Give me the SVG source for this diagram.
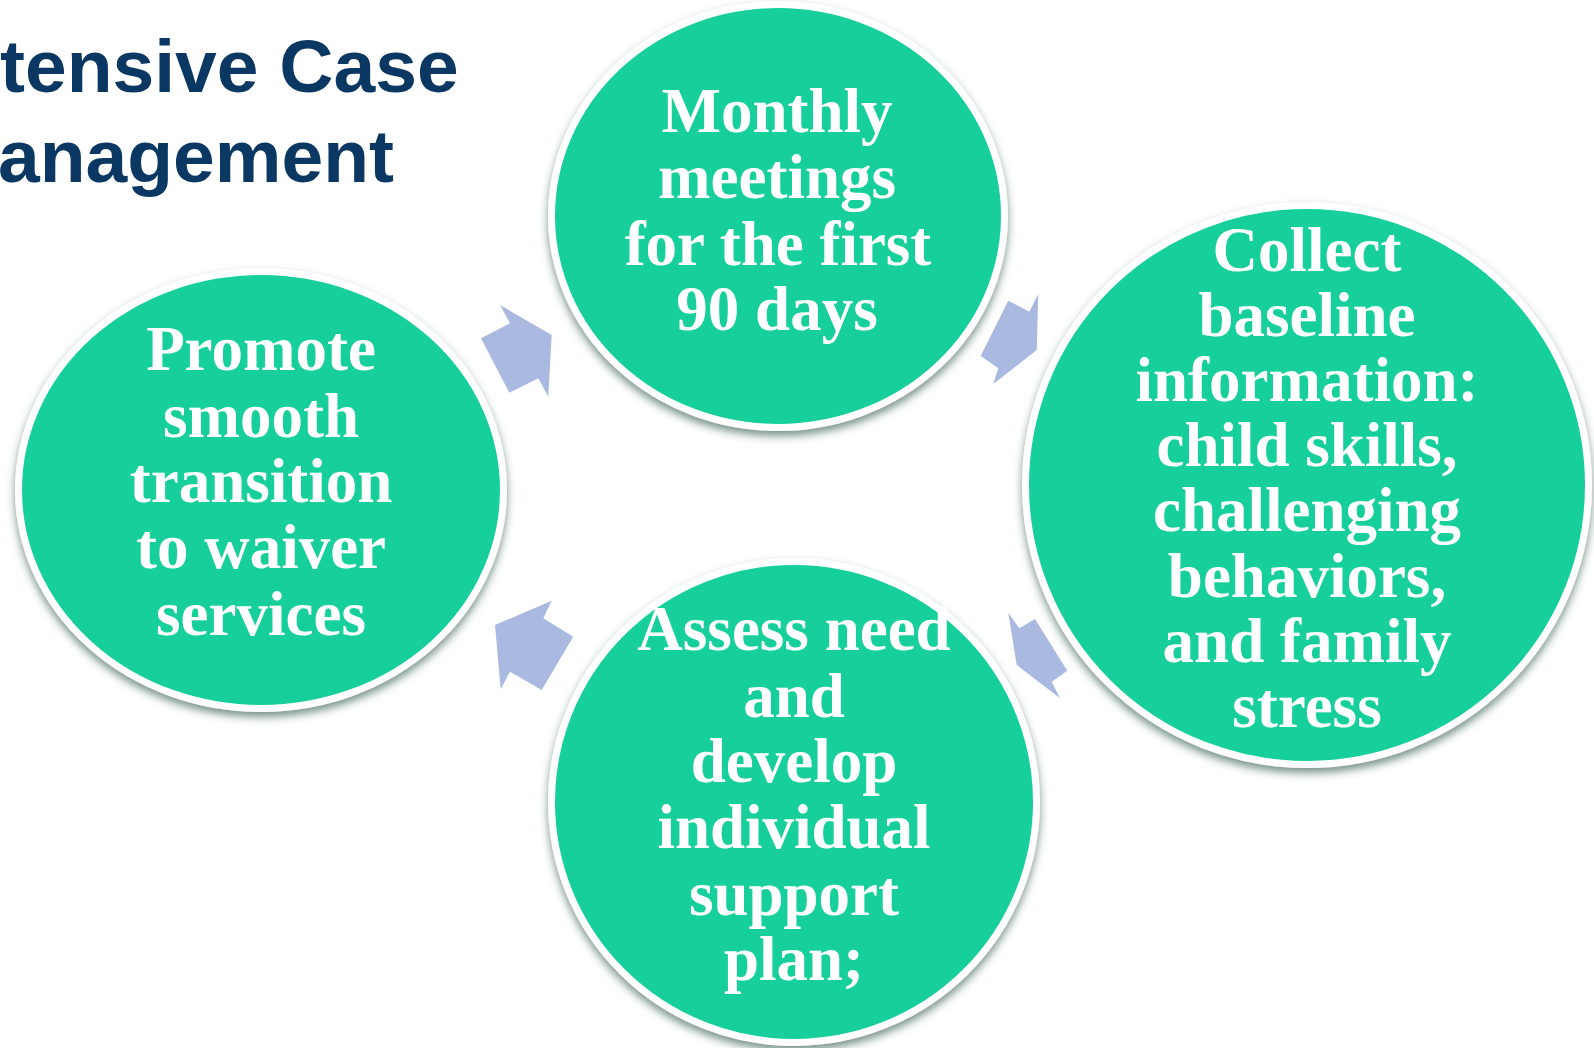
<svg xmlns="http://www.w3.org/2000/svg" width="1594" height="1048" viewBox="0 0 1594 1048">
  <defs>
    <filter id="shadow" x="-10%" y="-10%" width="120%" height="125%">
      <feDropShadow dx="0" dy="5" stdDeviation="4" flood-color="#2f5a4c" flood-opacity="0.65"/>
    </filter>
  </defs>
  <style>
    .title { font-family: "Liberation Sans", Arial, sans-serif; font-weight: bold; font-size: 75px; fill: #0B3763; }
    .node { fill: #13CF9A; stroke: #FFFFFF; stroke-width: 7; filter: url(#shadow); }
    .label { font-family: "Liberation Serif", "Times New Roman", serif; font-weight: bold; font-size: 63px; fill: #FFFFFF; text-anchor: middle; }
    .arrow { fill: #AAB9DF; stroke: none; }
  </style>
  <rect width="1594" height="1048" fill="#FFFFFF"/>

  <g id="title">
    <text class="title" x="0" y="92">tensive Case</text>
    <text class="title" x="-2" y="182">anagement</text>
  </g>

  <g id="connectors">
    <polygon class="arrow" points="481,338.3 510,323.3 500,305 551.7,335 548.3,396.7 538.3,378.3 509.3,392.7"/>
    <polygon class="arrow" points="1008.3,300.7 1029.3,311.7 1038.3,294 1036.7,350 993.3,384 998.3,368.3 980.7,356"/>
    <polygon class="arrow" points="1035,619 1019.3,628.3 1008.3,612.7 1016.7,665 1060,698.3 1051.7,681.7 1067.3,670.7"/>
    <polygon class="arrow" points="573.3,636.7 543.3,618.3 551.7,600.7 495,625 500.7,689.3 510,671.7 541.7,690"/>
  </g>

  <g id="node-monthly">
    <ellipse class="node" cx="778" cy="216" rx="226.5" ry="211.5"/>
    <text class="label" x="777" y="132">Monthly</text>
    <text class="label" x="777" y="198">meetings</text>
    <text class="label" x="778" y="265">for the first</text>
    <text class="label" x="777" y="330">90 days</text>
  </g>

  <g id="node-collect">
    <ellipse class="node" cx="1307" cy="485" rx="281.5" ry="279.5"/>
    <text class="label" x="1307" y="271">Collect</text>
    <text class="label" x="1307" y="336">baseline</text>
    <text class="label" x="1307" y="401">information:</text>
    <text class="label" x="1307" y="466">child skills,</text>
    <text class="label" x="1307" y="531">challenging</text>
    <text class="label" x="1307" y="597">behaviors,</text>
    <text class="label" x="1307" y="662">and family</text>
    <text class="label" x="1307" y="727">stress</text>
  </g>

  <g id="node-assess">
    <ellipse class="node" cx="794" cy="802" rx="242.5" ry="240.5"/>
    <text class="label" x="794" y="650">Assess need</text>
    <text class="label" x="794" y="717">and</text>
    <text class="label" x="794" y="782">develop</text>
    <text class="label" x="794" y="848">individual</text>
    <text class="label" x="794" y="915">support</text>
    <text class="label" x="794" y="980">plan;</text>
  </g>

  <g id="node-promote">
    <ellipse class="node" cx="261" cy="490" rx="242.5" ry="218.5"/>
    <text class="label" x="261" y="370">Promote</text>
    <text class="label" x="261" y="437">smooth</text>
    <text class="label" x="261" y="502">transition</text>
    <text class="label" x="261" y="568">to waiver</text>
    <text class="label" x="261" y="635">services</text>
  </g>
</svg>
